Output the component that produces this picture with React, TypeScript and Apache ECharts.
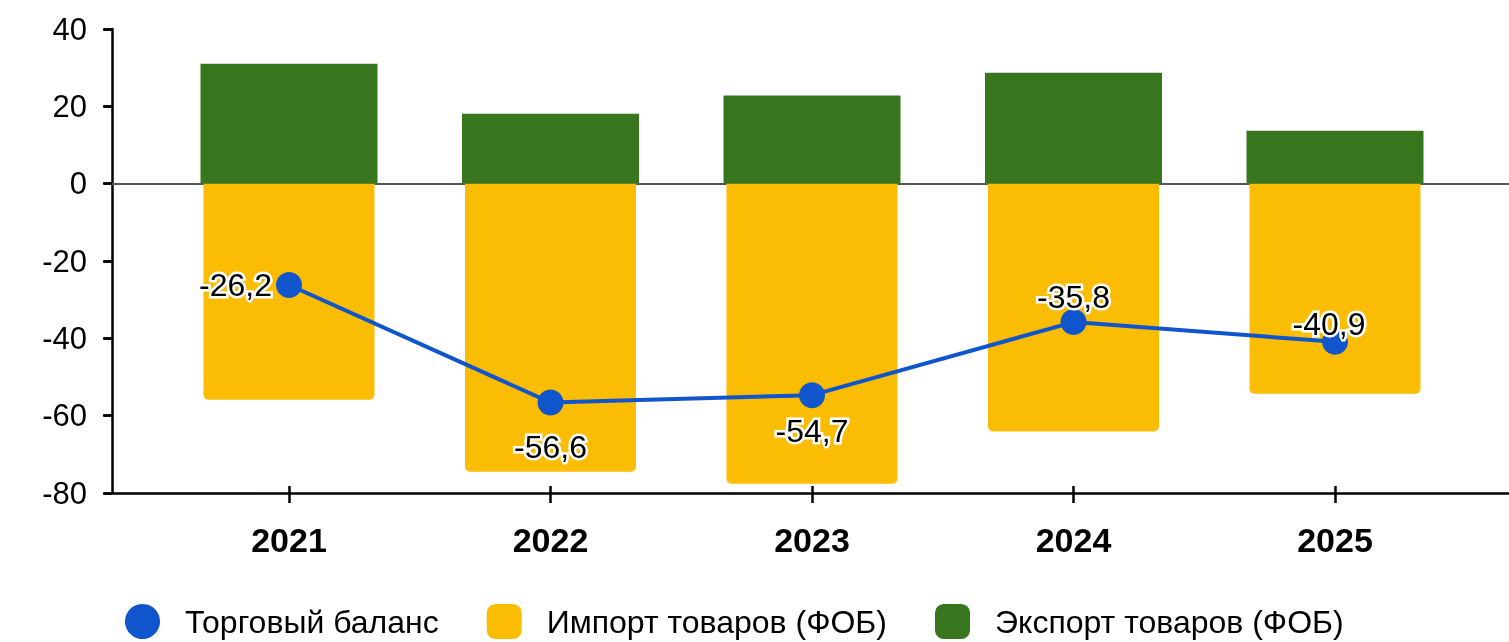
import React, { useEffect, useRef } from "react";
import * as echarts from "echarts";

const categories = ["2021", "2022", "2023", "2024", "2025"];
const balance = [-26.2, -56.6, -54.7, -35.8, -40.9];
const imports = [-55.9, -74.5, -77.6, -64.1, -54.3];
const exports = [31.0, 18.1, 22.8, 28.7, 13.7];
const yTicks = { min: -80, max: 40, interval: 20 };

const FONT = "'Liberation Sans', Arial, sans-serif";

type LabelCfg = { position: string; distance: number; offset?: [number, number] };
const labelCfg: LabelCfg[] = [
  { position: "left", distance: 4 },
  { position: "bottom", distance: 15 },
  { position: "bottom", distance: 7 },
  { position: "top", distance: -4 },
  { position: "top", distance: -11, offset: [-6, 0] },
];

export default function App() {
  const ref = useRef<HTMLDivElement>(null);
  useEffect(() => {
    if (!ref.current) return;
    const chart = echarts.init(ref.current, undefined, { renderer: "svg" });
    const top = 29;
    const bottom = 642 - 493;
    const option: any = {
      animation: false,
      textStyle: { fontFamily: FONT },
      grid: [
        { left: 112, right: 0, top, bottom, containLabel: false },
        { left: 158.25, right: 43.25, top, bottom, containLabel: false },
      ],
      legend: {
        left: 125,
        top: 604,
        padding: 0,
        itemWidth: 35,
        itemHeight: 35,
        itemGap: 48,
        textStyle: {
          fontSize: 32,
          color: "#000",
          fontFamily: FONT,
          padding: [0, 0, 0, 20],
        },
        data: [
          { name: "Торговый баланс", icon: "circle" },
          { name: "Импорт товаров (ФОБ)", icon: "roundRect" },
          { name: "Экспорт товаров (ФОБ)", icon: "roundRect" },
        ],
      },
      xAxis: [
        {
          type: "value",
          gridIndex: 0,
          min: 0,
          max: 1,
          position: "bottom",
          axisLine: { show: true, onZero: false, lineStyle: { color: "#000", width: 2.5 } },
          axisTick: { show: false },
          axisLabel: { show: false },
          splitLine: { show: false },
        },
        {
          type: "value",
          gridIndex: 0,
          min: 0,
          max: 1,
          position: "top",
          axisLine: { show: true, onZero: true, lineStyle: { color: "#555", width: 2 } },
          axisTick: { show: false },
          axisLabel: { show: false },
          splitLine: { show: false },
        },
        {
          type: "category",
          gridIndex: 1,
          data: categories,
          position: "bottom",
          axisLine: { show: false, onZero: false },
          axisTick: {
            show: true,
            alignWithLabel: true,
            length: 10,
            lineStyle: { color: "#000", width: 2.5 },
          },
          axisLabel: {
            margin: 30,
            fontSize: 34,
            fontWeight: "bold",
            color: "#000",
            fontFamily: FONT,
          },
        },
        {
          type: "category",
          gridIndex: 1,
          data: categories,
          position: "bottom",
          axisLine: { show: false, onZero: false },
          axisTick: {
            show: true,
            inside: true,
            alignWithLabel: true,
            length: 7,
            lineStyle: { color: "#000", width: 2.5 },
          },
          axisLabel: { show: false },
        },
      ],
      yAxis: [
        {
          type: "value",
          gridIndex: 0,
          ...yTicks,
          axisLine: { show: true, lineStyle: { color: "#000", width: 2.5 } },
          axisTick: { show: true, length: 9, lineStyle: { color: "#000", width: 2.5 } },
          axisLabel: { margin: 25, fontSize: 31, color: "#000", fontFamily: FONT },
          splitLine: { show: false },
        },
        {
          type: "value",
          gridIndex: 0,
          ...yTicks,
          axisLine: { show: false },
          axisTick: {
            show: true,
            inside: true,
            length: 8,
            lineStyle: { color: "#000", width: 2.5 },
          },
          axisLabel: { show: false },
          splitLine: { show: false },
        },
        {
          type: "value",
          gridIndex: 1,
          ...yTicks,
          show: false,
          splitLine: { show: false },
        },
      ],
      series: [
        {
          name: "Экспорт товаров (ФОБ)",
          type: "bar",
          xAxisIndex: 2,
          yAxisIndex: 2,
          barWidth: 177,
          data: exports,
          itemStyle: { color: "#38761D" },
          z: 3,
        },
        {
          name: "Импорт товаров (ФОБ)",
          type: "bar",
          xAxisIndex: 3,
          yAxisIndex: 2,
          barWidth: 171,
          data: imports,
          itemStyle: { color: "#FBBC04", borderRadius: [0, 0, 5, 5] },
          z: 4,
        },
        {
          name: "Торговый баланс",
          type: "line",
          xAxisIndex: 2,
          yAxisIndex: 2,
          symbol: "circle",
          symbolSize: 26,
          z: 5,
          lineStyle: { color: "#1155CC", width: 4 },
          itemStyle: { color: "#1155CC" },
          data: balance.map((v, i) => ({
            value: v,
            label: {
              show: true,
              position: labelCfg[i].position,
              distance: labelCfg[i].distance,
              offset: labelCfg[i].offset || [0, 0],
            },
          })),
          label: {
            show: true,
            fontSize: 32,
            color: "#000",
            fontFamily: FONT,
            textBorderColor: "#fff",
            textBorderWidth: 5,
            formatter: (p: any) => String(p.value).replace(".", ","),
          },
        },
      ],
    };
    chart.setOption(option);
    return () => chart.dispose();
  }, []);
  return (
    <div
      ref={ref}
      style={{ position: "fixed", left: 0, top: 0, width: 1509, height: 642 }}
    />
  );
}
